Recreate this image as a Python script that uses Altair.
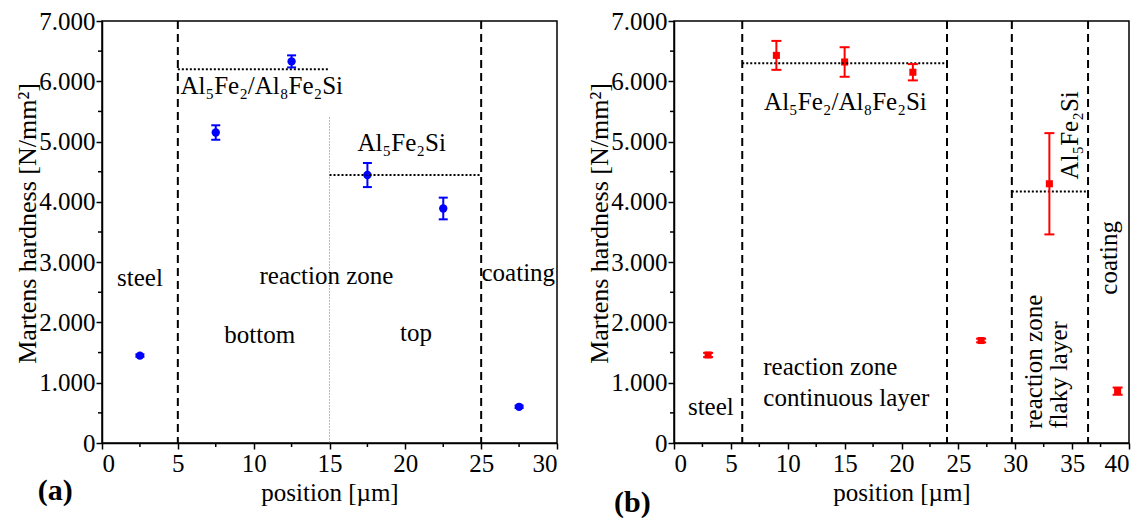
import altair as alt
import pandas as pd

FONT = "Liberation Serif"

# ---- (a) hardness profile, circles ----
a_pos = [2.5, 7.5, 12.5, 17.5, 22.5, 27.5]
a_hm = [1450, 5150, 6330, 4445, 3890, 600]
a_err = [20, 120, 100, 200, 180, 20]
a_bounds = [5, 25]
a_lvl_x = [5, 15]
a_lvl_x2 = [15, 25]
a_lvl_y = [6200, 4445]
a_split_x = [15]
a_split_top = [5400]

# ---- (b) hardness profile, squares ----
b_pos = [3, 9, 15, 21, 27, 33, 39]
b_hm = [1460, 6430, 6320, 6150, 1700, 4300, 860]
b_err = [35, 240, 245, 135, 30, 840, 60]
b_bounds = [6, 24, 29.7, 36.4]
b_lvl_x = [6, 29.7]
b_lvl_x2 = [24, 36.4]
b_lvl_y = [6300, 4170]

# ---- annotations: horizontal, centred ----
a_ctext = ["steel", "reaction zone", "coating", "bottom", "top", "Al₅Fe₂Si"]
a_cx = [2.5, 14.8, 27.45, 10.4, 20.7, 19.76]
a_cy = [2600, 2640, 2680, 1660, 1690, 4840]
a_ltext = ["Al₅Fe₂/Al₈Fe₂Si"]
a_lx = [5.17]
a_ly = [5790]

b_ctext = ["Al₅Fe₂/Al₈Fe₂Si", "steel"]
b_cx = [15.07, 3.24]
b_cy = [5530, 460]
b_ltext = ["reaction zone", "continuous layer"]
b_lx = [7.85, 7.85]
b_ly = [1130, 620]
# rotated annotations (read bottom to top)
b_vtext = ["reaction zone", "flaky layer", "coating", "Al₅Fe₂Si"]
b_vx = [32.33, 34.53, 38.93, 35.56]
b_vy = [237, 237, 2460, 4370]

# axis ticks
y_major = list(range(0, 7001, 1000))
y_minor = list(range(500, 7000, 1000))
a_x_major = [0, 5, 10, 15, 20, 25, 30]
a_x_minor = [2.5, 7.5, 12.5, 17.5, 22.5, 27.5]
b_x_major = [0, 5, 10, 15, 20, 25, 30, 35, 40]
b_x_minor = [2.5, 7.5, 12.5, 17.5, 22.5, 27.5, 32.5, 37.5]

W, H = 455, 422
Y_LABEL = "replace(format(datum.value, ','), ',', '.')"


def panel(pos, hm, err, xmax, color, shape, size, cap, bounds,
          lvl_x, lvl_x2, lvl_y, ctext, cx, cy, ltext, lx, ly,
          x_major, x_minor, tag, tag_x, tag_y, vtext=None, vx=None, vy=None,
          split_x=None, split_top=None):
    xs = alt.Scale(domain=[0, xmax], nice=False, zero=False)
    ys = alt.Scale(domain=[0, 7000], nice=False)
    x_axis = alt.Axis(values=x_major, format="d", title="position [µm]",
                      tickSize=6, labelPadding=2, titlePadding=4, titleFontSize=25)
    y_axis = alt.Axis(values=y_major, labelExpr=Y_LABEL,
                      title="Martens hardness [N/mm²]", titleFontSize=26,
                      tickSize=6, labelPadding=1, titlePadding=-2, titleY=202)

    def X(f):
        return alt.X(f, scale=xs, axis=x_axis)

    def Y(f):
        return alt.Y(f, scale=ys, axis=y_axis)

    pts = pd.DataFrame({"pos": pos, "hm": hm, "err": err})
    base = alt.Chart(pts).transform_calculate(
        lo="datum.hm - datum.err", hi="datum.hm + datum.err")

    layers = []
    # measured points first so that they own the axes
    layers.append(
        alt.Chart(pts)
        .mark_point(filled=True, shape=shape, size=size, color=color, opacity=1)
        .encode(x=X("pos:Q"), y=Y("hm:Q"))
    )
    # phase boundaries
    layers.append(
        alt.Chart(pd.DataFrame({"b": bounds}))
        .mark_rule(color="black", strokeWidth=2, strokeDash=[8, 5])
        .encode(x=X("b:Q"))
    )
    # phase hardness levels
    layers.append(
        alt.Chart(pd.DataFrame({"x": lvl_x, "x2": lvl_x2, "y": lvl_y}))
        .mark_rule(color="black", strokeWidth=2, strokeDash=[2, 2])
        .encode(x=X("x:Q"), x2="x2:Q", y=Y("y:Q"))
    )
    if split_x:
        layers.append(
            alt.Chart(pd.DataFrame({"x": split_x, "top": split_top,
                                    "bot": [0] * len(split_x)}))
            .mark_rule(color="#777777", strokeWidth=1, strokeDash=[1, 2])
            .encode(x=X("x:Q"), y=Y("top:Q"), y2="bot:Q")
        )
    # minor ticks
    layers.append(
        alt.Chart(pd.DataFrame({"v": y_minor}))
        .mark_rule(color="black", strokeWidth=1.5)
        .encode(y=Y("v:Q"), x=alt.value(0), x2=alt.value(-4))
    )
    layers.append(
        alt.Chart(pd.DataFrame({"v": x_minor}))
        .mark_rule(color="black", strokeWidth=1.5)
        .encode(x=X("v:Q"), y=alt.value(H), y2=alt.value(H + 4))
    )
    # error bars
    layers.append(
        base.mark_rule(color=color, strokeWidth=2)
        .encode(x=X("pos:Q"), y=Y("lo:Q"), y2="hi:Q")
    )
    layers.append(
        base.transform_fold(["lo", "hi"], as_=["end", "val"])
        .mark_tick(color=color, orient="horizontal", size=cap, thickness=2, opacity=1)
        .encode(x=X("pos:Q"), y=Y("val:Q"))
    )
    txt = dict(font=FONT, fontSize=25, color="black", baseline="alphabetic")
    layers.append(
        alt.Chart(pd.DataFrame({"t": ctext, "x": cx, "y": cy}))
        .mark_text(align="center", **txt)
        .encode(x=X("x:Q"), y=Y("y:Q"), text="t:N")
    )
    layers.append(
        alt.Chart(pd.DataFrame({"t": ltext, "x": lx, "y": ly}))
        .mark_text(align="left", **txt)
        .encode(x=X("x:Q"), y=Y("y:Q"), text="t:N")
    )
    if vtext:
        layers.append(
            alt.Chart(pd.DataFrame({"t": vtext, "x": vx, "y": vy}))
            .mark_text(align="left", angle=270, **txt)
            .encode(x=X("x:Q"), y=Y("y:Q"), text="t:N")
        )
    layers.append(
        alt.Chart(pd.DataFrame({"t": [tag]}))
        .mark_text(font=FONT, fontSize=30, fontWeight="bold", color="black",
                   align="center", baseline="middle")
        .encode(x=alt.value(tag_x), y=alt.value(tag_y), text="t:N")
    )
    return alt.layer(*layers).properties(width=W, height=H)


left = panel(a_pos, a_hm, a_err, 30, "#0000ff", "circle", 70, 9, a_bounds,
             a_lvl_x, a_lvl_x2, a_lvl_y, a_ctext, a_cx, a_cy, a_ltext, a_lx, a_ly,
             a_x_major, a_x_minor, "(a)", -46.7, 470,
             split_x=a_split_x, split_top=a_split_top)
right = panel(b_pos, b_hm, b_err, 40, "#ff0000", "square", 50, 10, b_bounds,
              b_lvl_x, b_lvl_x2, b_lvl_y, b_ctext, b_cx, b_cy, b_ltext, b_lx, b_ly,
              b_x_major, b_x_minor, "(b)", -41.7, 482,
              vtext=b_vtext, vx=b_vx, vy=b_vy)

chart = (
    alt.hconcat(left, right, spacing=27)
    .properties(padding={"left": 14, "top": 8, "right": 0, "bottom": 0},
                background="white")
    .configure_view(stroke="black", strokeWidth=1.5)
    .configure_axis(
        labelFont=FONT, labelFontSize=25, labelColor="black",
        titleFont=FONT, titleFontWeight="normal", titleColor="black",
        domainColor="black", domainWidth=1.5, tickColor="black", tickWidth=1.5,
        grid=False,
    )
)

chart.save("out.html", embed_options={"renderer": "svg", "actions": False})
